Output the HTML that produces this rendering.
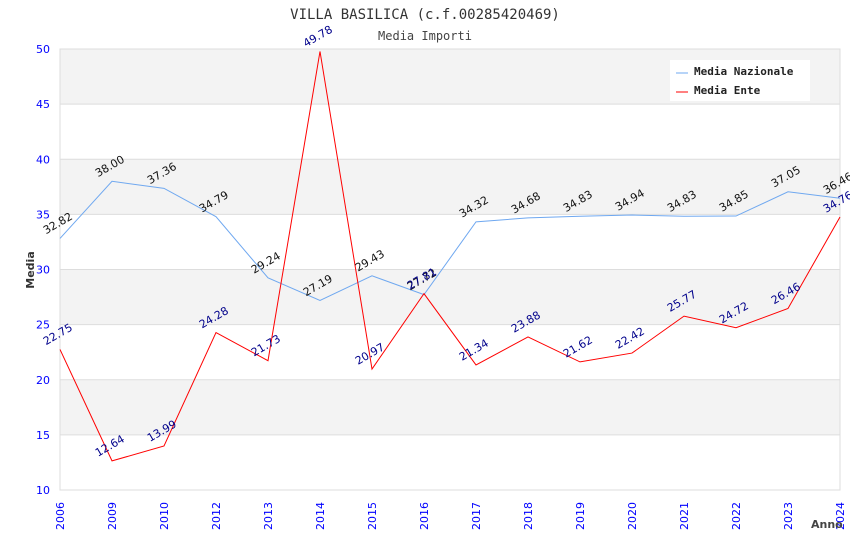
<!DOCTYPE html>
<html><head><meta charset="utf-8"><style>
body{margin:0;background:#fff;}
svg{display:block;font-family:"DejaVu Sans Mono","Liberation Mono",monospace;}
</style></head><body>
<svg id="chart" width="850" height="550">
<text x="425" y="19" text-anchor="middle" font-size="14" fill="#333">VILLA BASILICA (c.f.00285420469)</text>
<text x="425" y="40" text-anchor="middle" font-size="12" fill="#444">Media Importi</text>
<g id="grid"></g><g id="series"></g><g id="labels"></g>
<text transform="translate(34,270) rotate(-90)" text-anchor="middle" font-size="11" font-weight="bold" fill="#333" font-family="DejaVu Sans, sans-serif">Media</text>
<text x="811" y="528" font-size="11" font-weight="bold" fill="#444" font-family="DejaVu Sans, sans-serif">Anno</text>
<g>
<rect x="670" y="60" width="140" height="41" fill="#fff"/>
<line x1="676" y1="73" x2="688" y2="73" stroke="#6fa8f0"/>
<text x="694" y="75" font-size="11" font-weight="bold" fill="#222">Media Nazionale</text>
<line x1="676" y1="92" x2="688" y2="92" stroke="#f00"/>
<text x="694" y="94" font-size="11" font-weight="bold" fill="#222">Media Ente</text>
</g>
</svg>
<script>
const years=["2006","2009","2010","2012","2013","2014","2015","2016","2017","2018","2019","2020","2021","2022","2023","2024"];
const nazionale=[32.82,38.00,37.36,34.79,29.24,27.19,29.43,27.72,34.32,34.68,34.83,34.94,34.83,34.85,37.05,36.46];
const ente=[22.75,12.64,13.99,24.28,21.73,49.78,20.97,27.81,21.34,23.88,21.62,22.42,25.77,24.72,26.46,34.76];
const yTicks=[10,15,20,25,30,35,40,45,50];
const NS="http://www.w3.org/2000/svg";
const x0=60,x1=840,yTop=49,yBot=490,yMin=10,yMax=50;
const X=i=>x0+i*(x1-x0)/(years.length-1);
const Y=v=>yBot-(v-yMin)/(yMax-yMin)*(yBot-yTop);
function mk(t,a,p){const e=document.createElementNS(NS,t);for(const k in a)e.setAttribute(k,a[k]);p.appendChild(e);return e;}
const grid=document.getElementById('grid'),ser=document.getElementById('series'),lab=document.getElementById('labels');
for(let i=0;i<yTicks.length-1;i++){
  if(i%2===1){const r=mk('rect',{x:x0,y:Y(yTicks[i+1]),width:x1-x0,height:Y(yTicks[i])-Y(yTicks[i+1]),fill:'#f3f3f3'},grid);
  
  }
}
yTicks.forEach(v=>{
  const l=mk('line',{x1:x0,x2:x1,y1:Y(v),y2:Y(v),stroke:'#ddd'},grid);
  
  
  const t=mk('text',{x:x0-10,y:Y(v)+4,'text-anchor':'end','font-size':11,fill:'#00f','font-family':'"DejaVu Sans",sans-serif'},grid);
  t.textContent=v;
  
  
});
const fr=mk('rect',{x:x0,y:yTop,width:x1-x0,height:yBot-yTop,fill:'none',stroke:'#ddd'},grid);


years.forEach((y,i)=>{
  const t=mk('text',{transform:`translate(${X(i)+4},${yBot+40}) rotate(-90)`,'font-size':11,fill:'#00f','font-family':'"DejaVu Sans",sans-serif'},grid);
  t.textContent=y;
  
  
});
function series(vals,color,lc,name){
  const p=mk('polyline',{points:vals.map((v,i)=>X(i)+','+Y(v)).join(' '),fill:'none',stroke:color,'stroke-width':1},ser);
  
  
  vals.forEach((v,i)=>{
    const t=mk('text',{transform:`translate(${X(i)-14},${Y(v)-4}) rotate(-30)`,'font-size':11,fill:lc,'font-family':'"DejaVu Sans",sans-serif'},lab);
    t.textContent=v.toFixed(2);
    
    
  });
}
series(nazionale,'#6fa8f0','#111','nazionale');
series(ente,'#f00','#00008b','ente');
</script>
</body></html>
